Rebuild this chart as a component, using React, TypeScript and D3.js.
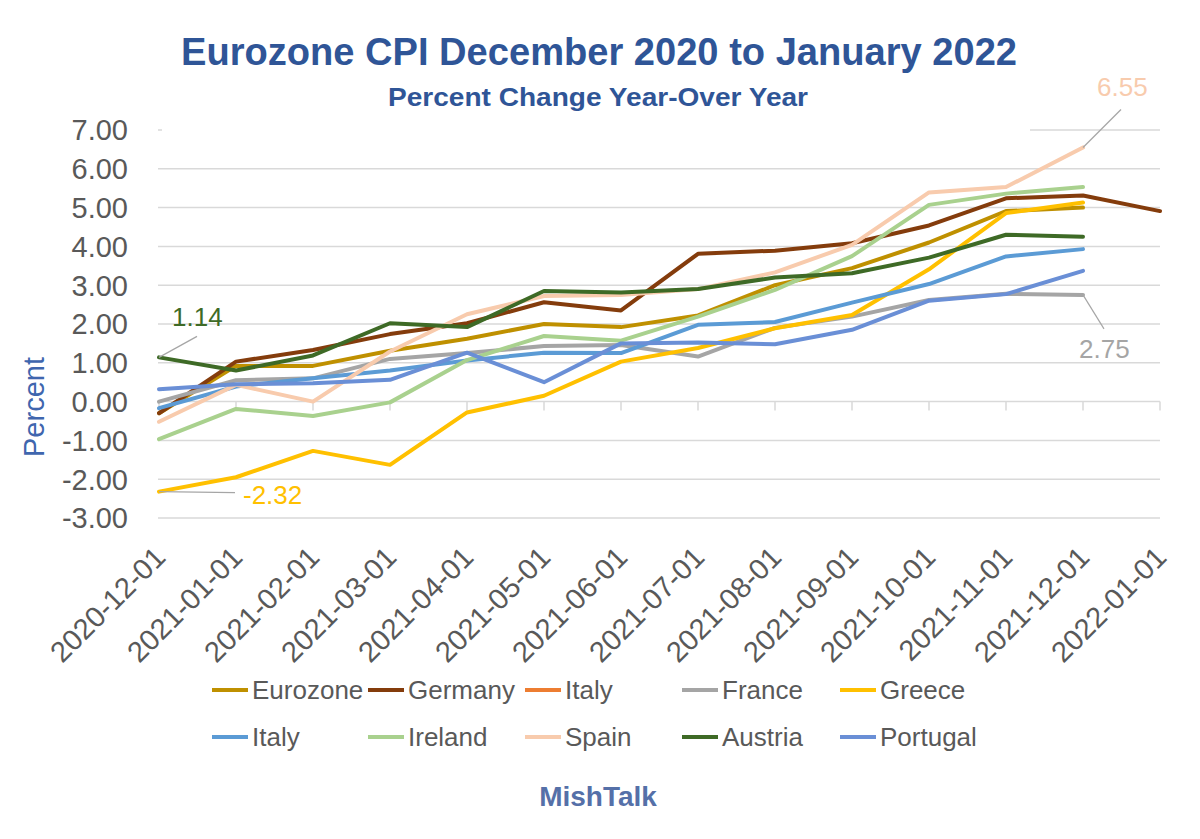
import React from "react";
import * as d3 from "d3";

const categories = [
  "2020-12-01", "2021-01-01", "2021-02-01", "2021-03-01", "2021-04-01", "2021-05-01", "2021-06-01",
  "2021-07-01", "2021-08-01", "2021-09-01", "2021-10-01", "2021-11-01", "2021-12-01", "2022-01-01",
];
const yTicks = [7, 6, 5, 4, 3, 2, 1, 0, -1, -2, -3];

const eurozone = [-0.3, 0.92, 0.92, 1.31, 1.62, 2.0, 1.92, 2.22, 3.0, 3.44, 4.1, 4.91, 5.0];
const germany = [-0.3, 1.03, 1.33, 1.74, 2.02, 2.56, 2.35, 3.81, 3.89, 4.08, 4.54, 5.24, 5.31, 4.91];
const italyOrange: number[] = [];
const france = [0.0, 0.55, 0.6, 1.1, 1.25, 1.43, 1.46, 1.16, 1.9, 2.19, 2.62, 2.78, 2.75];
const greece = [-2.32, -1.95, -1.27, -1.63, -0.28, 0.15, 1.03, 1.38, 1.89, 2.23, 3.41, 4.86, 5.13];
const italy = [-0.17, 0.39, 0.6, 0.8, 1.06, 1.26, 1.25, 1.98, 2.05, 2.55, 3.03, 3.74, 3.93];
const ireland = [-0.97, -0.19, -0.37, -0.02, 1.07, 1.69, 1.57, 2.19, 2.88, 3.75, 5.07, 5.36, 5.53];
const spain = [-0.52, 0.43, 0.0, 1.29, 2.25, 2.72, 2.75, 2.9, 3.33, 4.04, 5.39, 5.53, 6.55];
const austria = [1.14, 0.8, 1.19, 2.02, 1.92, 2.85, 2.81, 2.9, 3.2, 3.31, 3.71, 4.3, 4.25];
const portugal = [0.32, 0.45, 0.47, 0.56, 1.26, 0.5, 1.5, 1.52, 1.48, 1.85, 2.6, 2.77, 3.37];

const seriesNames = ["Eurozone", "Germany", "Italy", "France", "Greece", "Italy", "Ireland", "Spain", "Austria", "Portugal"];
const seriesValues = [eurozone, germany, italyOrange, france, greece, italy, ireland, spain, austria, portugal];
const seriesColors = ["#BF9000", "#843C0C", "#ED7D31", "#A5A5A5", "#FFC000", "#5B9BD5", "#A9D18E", "#F8CBAD", "#3E6A26", "#6A8FD6"];

const FONT = "'Liberation Sans', Arial, sans-serif";

export default function App() {
  const W = 1200, H = 839;
  const x = d3.scalePoint<string>().domain(categories).range([159, 1160]);
  const y = d3.scaleLinear().domain([-3, 7]).range([518, 130]);
  const line = d3.line<number>()
    .x((_, i) => x(categories[i]) as number)
    .y((d) => y(d));

  const legendCols = [212, 368, 525, 682, 840];
  const legendRows = [690, 737];

  const pt = (series: number[], i: number) => [x(categories[i]) as number, y(series[i])];
  const [aX, aY] = pt(austria, 0);
  const [gX, gY] = pt(greece, 0);
  const [sX, sY] = pt(spain, 12);
  const [fX, fY] = pt(france, 12);

  return (
    <svg width={W} height={H} style={{ position: "absolute", left: 0, top: 0, background: "#fff" }} fontFamily={FONT}>
      <rect x={0} y={0} width={W} height={H} fill="#fff" />
      {/* gridlines */}
      {yTicks.map((t) => (
        <line key={t} x1={158} x2={1160} y1={y(t)} y2={y(t)} stroke="#D9D9D9" strokeWidth={1.5} />
      ))}
      {/* title box covering top gridline */}
      <rect x={162} y={118} width={868} height={16} fill="#fff" />
      {/* x axis ticks */}
      {categories.map((c) => (
        <line key={c} x1={x(c)} x2={x(c)} y1={y(0)} y2={y(0) + 9} stroke="#D9D9D9" strokeWidth={1.5} />
      ))}
      {/* y tick labels */}
      {yTicks.map((t) => (
        <text key={t} x={128} y={y(t)} dy="0.36em" textAnchor="end" fontSize={29} fill="#595959">
          {t.toFixed(2)}
        </text>
      ))}
      {/* x tick labels */}
      {categories.map((c) => (
        <text key={c} transform={`translate(${(x(c) as number) + 1},552) rotate(-45)`} textAnchor="end" dy="0.35em" fontSize={29} fill="#595959">
          {c}
        </text>
      ))}
      {/* series lines */}
      {seriesValues.map((vals, k) =>
        vals.length ? (
          <path key={k} d={line(vals) || ""} fill="none" stroke={seriesColors[k]} strokeWidth={4} strokeLinejoin="round" strokeLinecap="round" />
        ) : null
      )}
      {/* annotations */}
      <line x1={aX} y1={aY} x2={aX + 38} y2={aY - 21} stroke="#A6A6A6" strokeWidth={1.2} />
      <text x={aX + 13} y={aY - 31} fontSize={26} fill="#3E6A26">{austria[0].toFixed(2)}</text>
      <line x1={gX} y1={gY} x2={gX + 76} y2={gY + 1} stroke="#A6A6A6" strokeWidth={1.2} />
      <text x={gX + 84} y={gY + 12} fontSize={26} fill="#FFC000">{greece[0].toFixed(2)}</text>
      <line x1={sX} y1={sY} x2={sX + 38} y2={sY - 38} stroke="#A6A6A6" strokeWidth={1.2} />
      <text x={sX + 14} y={sY - 51} fontSize={26} fill="#F8CBAD">{spain[12].toFixed(2)}</text>
      <line x1={fX} y1={fY} x2={fX + 21} y2={fY + 34} stroke="#A6A6A6" strokeWidth={1.2} />
      <text x={fX - 4} y={fY + 63} fontSize={26} fill="#A5A5A5">{france[12].toFixed(2)}</text>
      {/* title */}
      <text x={599} y={65} textAnchor="middle" fontSize={38} fontWeight="bold" fill="#2F5597" textLength={836} lengthAdjust="spacingAndGlyphs">
        Eurozone CPI December 2020 to January 2022
      </text>
      <text x={598} y={106} textAnchor="middle" fontSize={26} fontWeight="bold" fill="#2F5597" textLength={420} lengthAdjust="spacingAndGlyphs">
        Percent Change Year-Over Year
      </text>
      {/* y axis title */}
      <text transform="translate(44,407) rotate(-90)" textAnchor="middle" fontSize={29} fill="#3F66AE">
        Percent
      </text>
      {/* legend */}
      {seriesNames.map((n, k) => {
        const lx = legendCols[k % 5];
        const ly = legendRows[Math.floor(k / 5)];
        return (
          <g key={k}>
            <line x1={lx} x2={lx + 36} y1={ly} y2={ly} stroke={seriesColors[k]} strokeWidth={4} />
            <text x={lx + 40} y={ly} dy="0.36em" fontSize={26} fill="#595959">{n}</text>
          </g>
        );
      })}
      {/* source */}
      <text x={598} y={806} textAnchor="middle" fontSize={28} fontWeight="bold" fill="#5570A8">MishTalk</text>
    </svg>
  );
}
